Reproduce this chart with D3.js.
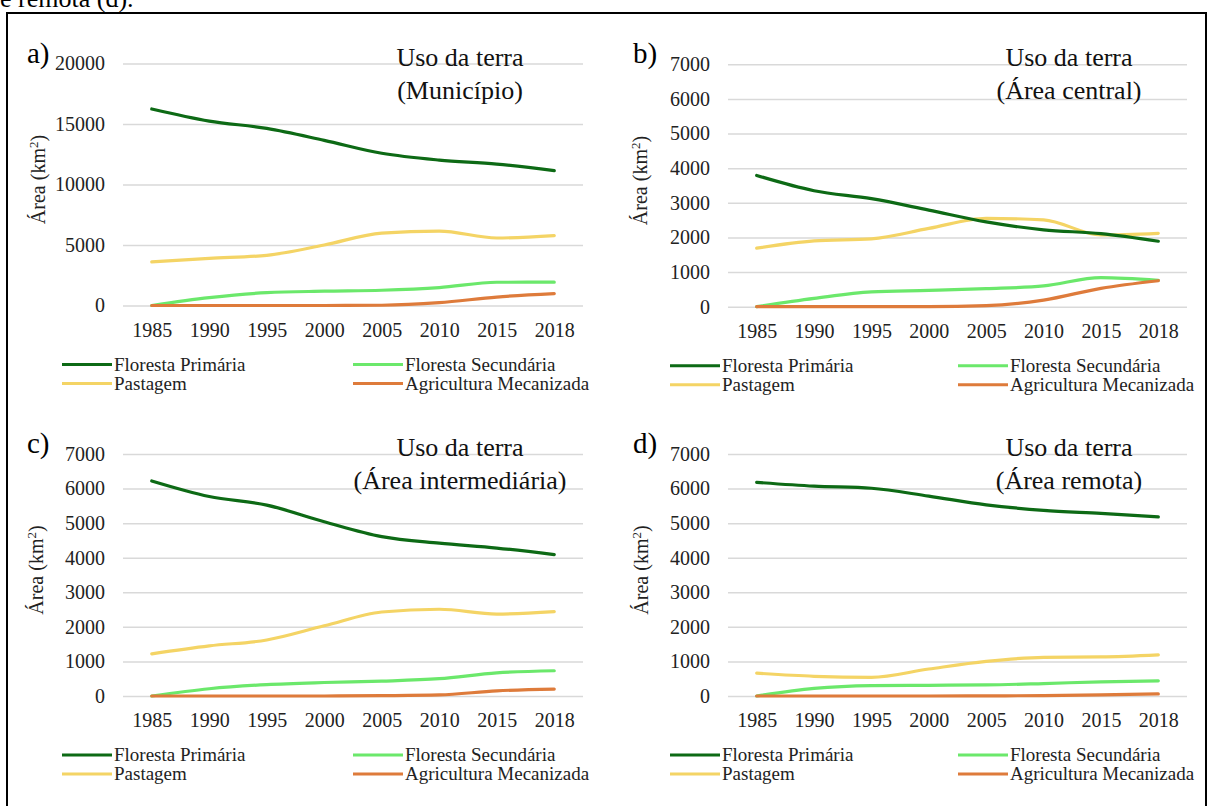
<!DOCTYPE html>
<html>
<head>
<meta charset="utf-8">
<script src="https://cdn.jsdelivr.net/npm/d3@7"></script>
<style>
  body { margin: 0; background: #fff; }
  svg { display: block; }
  svg text { font-family: "Liberation Serif", "Times New Roman", serif; }
</style>
</head>
<body>
<svg id="chart" width="1207" height="806"></svg>
<script>
const years = ['1985', '1990', '1995', '2000', '2005', '2010', '2015', '2018'];
const seriesNames = ['Floresta Primária', 'Floresta Secundária', 'Pastagem', 'Agricultura Mecanizada'];
const seriesColors = ['#0d6a15', '#6be86b', '#f4d465', '#de7b3b'];

// a) Município
const municipioPrimaria = [16240, 15240, 14640, 13650, 12580, 12020, 11690, 11140];
const municipioSecundaria = [0, 650, 1060, 1180, 1260, 1480, 1920, 1930];
const municipioPastagem = [3600, 3900, 4150, 5000, 5980, 6150, 5580, 5780];
const municipioAgricultura = [0, 0, 0, 0, 20, 230, 700, 980];

// b) Área central
const centralPrimaria = [3790, 3350, 3120, 2790, 2450, 2220, 2110, 1890];
const centralSecundaria = [0, 240, 430, 470, 520, 600, 840, 760];
const centralPastagem = [1690, 1900, 1960, 2260, 2550, 2510, 2070, 2120];
const centralAgricultura = [0, 0, 0, 0, 30, 190, 530, 750];

// c) Área intermediária
const interPrimaria = [6220, 5770, 5520, 5040, 4610, 4420, 4280, 4090];
const interSecundaria = [0, 210, 330, 390, 430, 500, 670, 730];
const interPastagem = [1220, 1450, 1620, 2030, 2430, 2510, 2370, 2440];
const interAgricultura = [0, 0, 0, 0, 10, 30, 150, 200];

// d) Área remota
const remotaPrimaria = [6180, 6070, 6010, 5780, 5530, 5370, 5280, 5180];
const remotaSecundaria = [0, 220, 300, 310, 320, 360, 410, 440];
const remotaPastagem = [660, 570, 540, 780, 1000, 1120, 1130, 1190];
const remotaAgricultura = [0, 0, 0, 0, 5, 10, 30, 60];

const ticksA = [0, 5000, 10000, 15000, 20000];
const ticksBCD = [0, 1000, 2000, 3000, 4000, 5000, 6000, 7000];

const panels = [
  { letter: 'a)', title: ['Uso da terra', '(Município)'], ticks: ticksA,
    series: [municipioPrimaria, municipioSecundaria, municipioPastagem, municipioAgricultura],
    x0: 123, x1: 583, yTop: 63.5, yBottom: 305.5, letterX: 27, titleX: 460, axisTitleX: 38, legendX: 114, legendX2: 405 },
  { letter: 'b)', title: ['Uso da terra', '(Área central)'], ticks: ticksBCD,
    series: [centralPrimaria, centralSecundaria, centralPastagem, centralAgricultura],
    x0: 728, x1: 1187, yTop: 64.3, yBottom: 306.7, letterX: 633, titleX: 1069, axisTitleX: 640, legendX: 722, legendX2: 1010 },
  { letter: 'c)', title: ['Uso da terra', '(Área intermediária)'], ticks: ticksBCD,
    series: [interPrimaria, interSecundaria, interPastagem, interAgricultura],
    x0: 123, x1: 583, yTop: 454, yBottom: 696, letterX: 27, titleX: 460, axisTitleX: 36, legendX: 114, legendX2: 405 },
  { letter: 'd)', title: ['Uso da terra', '(Área remota)'], ticks: ticksBCD,
    series: [remotaPrimaria, remotaSecundaria, remotaPastagem, remotaAgricultura],
    x0: 728, x1: 1187, yTop: 454, yBottom: 696, letterX: 633, titleX: 1069, axisTitleX: 641, legendX: 722, legendX2: 1010 },
];

const svg = d3.select('#chart');

// caption from the page above, cut off at the top like in the scan
svg.append('text')
  .attr('x', 0)
  .attr('y', 7)
  .style('font-size', '26px')
  .text('e remota (d).');

svg.append('rect')
  .attr('x', 7)
  .attr('y', 13)
  .attr('width', 1199)
  .attr('height', 830)
  .attr('fill', 'none')
  .attr('stroke', '#000')
  .attr('stroke-width', 2);

const drawPanel = p => {
  const g = svg.append('g');
  const x = d3.scalePoint().domain(years).range([p.x0, p.x1]).padding(0.5);
  const yMax = p.ticks[p.ticks.length - 1];
  const y = d3.scaleLinear().domain([0, yMax]).range([p.yBottom, p.yTop]);

  const yAxis = g.append('g')
    .attr('transform', `translate(${p.x0},0)`)
    .call(d3.axisLeft(y).tickValues(p.ticks).tickFormat(d3.format('d'))
      .tickSize(-(p.x1 - p.x0)).tickPadding(18));
  yAxis.select('.domain').remove();
  yAxis.selectAll('line').attr('stroke', '#d9d9d9').attr('stroke-width', 1.5);
  yAxis.selectAll('text').style('font-size', '20px').attr('fill', '#222');

  const xAxis = g.append('g')
    .attr('transform', `translate(0,${p.yBottom})`)
    .call(d3.axisBottom(x).tickSize(0).tickPadding(17));
  xAxis.select('.domain').remove();
  xAxis.selectAll('text').style('font-size', '20px').attr('fill', '#222');

  const line = d3.line()
    .x((d, i) => x(years[i]))
    .y(d => y(d))
    .curve(d3.curveMonotoneX);

  // pastagem first so the forest lines sit on top where they cross
  [2, 0, 1, 3].forEach(k => {
    g.append('path')
      .datum(p.series[k])
      .attr('d', line)
      .attr('fill', 'none')
      .attr('stroke', seriesColors[k])
      .attr('stroke-width', 3.2)
      .attr('stroke-linecap', 'round');
  });

  g.append('text')
    .attr('x', p.letterX)
    .attr('y', p.yTop - 1)
    .style('font-size', '29px')
    .text(p.letter);

  const title = g.append('text')
    .attr('text-anchor', 'middle')
    .style('font-size', '26px')
    .attr('fill', '#111');
  title.append('tspan').attr('x', p.titleX).attr('y', p.yTop + 2).text(p.title[0]);
  title.append('tspan').attr('x', p.titleX).attr('y', p.yTop + 35).text(p.title[1]);

  const cy = (p.yTop + p.yBottom) / 2 - 5;
  const axisTitle = g.append('text')
    .attr('transform', `translate(${p.axisTitleX + 7},${cy}) rotate(-90)`)
    .attr('text-anchor', 'middle')
    .style('font-size', '20px')
    .attr('fill', '#222');
  axisTitle.append('tspan').text('Área (km');
  axisTitle.append('tspan').attr('dy', -7).style('font-size', '13px').text('2');
  axisTitle.append('tspan').attr('dy', 7).text(')');

  const legendY = p.yBottom + 59;
  const legendPos = [
    [p.legendX, legendY], [p.legendX2, legendY],
    [p.legendX, legendY + 19], [p.legendX2, legendY + 19],
  ];
  seriesNames.forEach((name, k) => {
    const [lx, ly] = legendPos[k];
    g.append('line')
      .attr('x1', lx - 52).attr('x2', lx - 2)
      .attr('y1', ly).attr('y2', ly)
      .attr('stroke', seriesColors[k])
      .attr('stroke-width', 3);
    g.append('text')
      .attr('x', lx)
      .attr('y', ly)
      .attr('dy', '0.33em')
      .style('font-size', '19px')
      .attr('fill', '#222')
      .text(name);
  });
};

panels.forEach(drawPanel);
</script>
</body>
</html>
